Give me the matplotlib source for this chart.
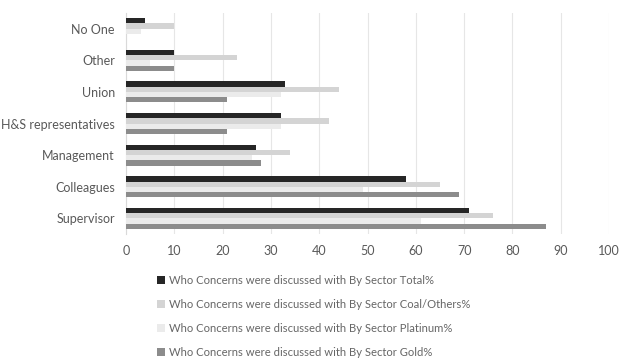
import matplotlib
matplotlib.use("Agg")
import matplotlib.pyplot as plt
import numpy as np
from matplotlib.patches import Patch

plt.rcParams['font.family'] = ['Lato', 'DejaVu Sans']

categories = ["Supervisor", "Colleagues", "Management", "H&S representatives", "Union", "Other", "No One"]
total = [71, 58, 27, 32, 33, 10, 4]
coal = [76, 65, 34, 42, 44, 23, 10]
platinum = [61, 49, 26, 32, 32, 5, 3]
gold = [87, 69, 28, 21, 21, 10, 0]

series_names = [
    "Who Concerns were discussed with By Sector Total%",
    "Who Concerns were discussed with By Sector Coal/Others%",
    "Who Concerns were discussed with By Sector Platinum%",
    "Who Concerns were discussed with By Sector Gold%",
]
series = [total, coal, platinum, gold]
colors = ["#262626", "#d4d4d4", "#ebebeb", "#8c8c8c"]

fig = plt.figure(figsize=(6.24, 3.58), dpi=100)
ax = fig.add_axes([0.202, 0.346, 0.774, 0.618])

y = np.arange(len(categories))
h = 0.165
offsets = [1.5 * h, 0.5 * h, -0.5 * h, -1.5 * h]
for vals, off, c in zip(series, offsets, colors):
    ax.barh(y + off, vals, height=h, color=c, zorder=3)

ax.set_xlim(0, 100)
ax.set_ylim(-0.5, len(categories) - 0.5)
ax.set_xticks(range(0, 101, 10))
ax.set_yticks(y)
ax.set_yticklabels(categories)
ax.tick_params(axis='both', length=0, colors="#595959", labelsize=9)
ax.tick_params(axis='x', pad=8)
ax.tick_params(axis='y', pad=8)
ax.grid(axis='x', color="#e6e6e6", linewidth=0.8, zorder=0)
for s in ["top", "right", "bottom"]:
    ax.spines[s].set_visible(False)
ax.spines["left"].set_color("#d9d9d9")
ax.spines["left"].set_linewidth(0.8)

handles = [Patch(facecolor=c, edgecolor='none') for c in colors]
fig.legend(handles, series_names, loc="upper left", bbox_to_anchor=(0.235, 0.26),
           frameon=False, ncol=1, fontsize=8.1, labelcolor="#666666",
           handlelength=0.7, handleheight=0.7, handletextpad=0.4, labelspacing=1.15)

fig.savefig("out.png", dpi=100)
